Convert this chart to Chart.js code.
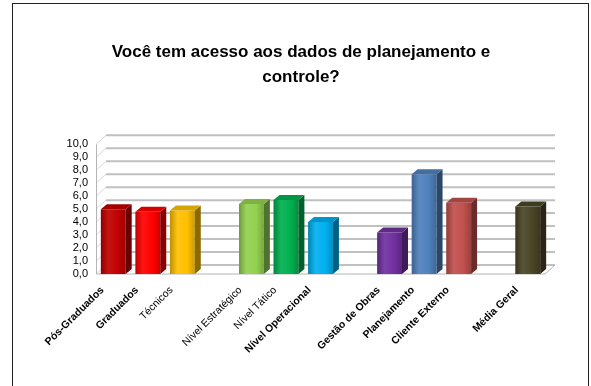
<!DOCTYPE html>
<html>
<head>
<meta charset="utf-8">
<script src="https://cdn.jsdelivr.net/npm/chart.js@4.4.0/dist/chart.umd.min.js"></script>
<style>
  html, body { margin: 0; padding: 0; background: #fff; }
  #wrap { position: relative; width: 591px; height: 386px; overflow: hidden; }
  #frame { position: absolute; left: 12px; top: 3px; width: 577px; height: 420px; border: 1px solid #222; box-sizing: border-box; }
  canvas { position: absolute; left: 0; top: 0; }
</style>
</head>
<body>
<div id="wrap">
  <div id="frame"></div>
  <canvas id="acessoChart" width="591" height="386"></canvas>
</div>
<script>
// categorias (vazias = espaço entre grupos)
const categorias = ['Pós-Graduados', 'Graduados', 'Técnicos', '',
    'Nível Estratégico', 'Nível Tático', 'Nível Operacional', '',
    'Gestão de Obras', 'Planejamento', 'Cliente Externo', '',
    'Média Geral'];
const notas = [5.0, 4.8, 4.9, null, 5.4, 5.7, 4.0, null, 3.2, 7.7, 5.5, null, 5.2];
const cores = ['#C00000', '#FF0000', '#FFC000', '#ffffff',
    '#92D050', '#00B050', '#00B0F0', '#ffffff',
    '#7030A0', '#4F81BD', '#C0504D', '#ffffff',
    '#4A4526'];
const ticksY = [0, 1, 2, 3, 4, 5, 6, 7, 8, 9, 10];
// rótulos que aparecem sem negrito
const rotulosNormais = [2, 4, 5];

const FONTE = "'Liberation Sans', Arial, sans-serif";
const BAR_DX = 6, BAR_DY = 5;     // profundidade das colunas
const WALL_DX = 10, WALL_DY = 9;  // profundidade da parede do fundo

// clareia (amt > 0) ou escurece (amt < 0) uma cor hex
function mix(hex, amt) {
    const n = parseInt(hex.slice(1), 16);
    let r = n >> 16, g = (n >> 8) & 255, b = n & 255;
    const t = amt < 0 ? 0 : 255, p = Math.abs(amt);
    r = Math.round(r + (t - r) * p);
    g = Math.round(g + (t - g) * p);
    b = Math.round(b + (t - b) * p);
    return `rgb(${r},${g},${b})`;
}

// gradiente horizontal da face da frente
function frontFill(context) {
    const chart = context.chart;
    const base = cores[context.dataIndex];
    const xs = chart.scales.x;
    if (!chart.chartArea || !xs) return base;
    const cx = xs.getPixelForValue(context.dataIndex);
    const w = (xs.width / categorias.length) * 0.72;
    const g = chart.ctx.createLinearGradient(cx - w / 2, 0, cx + w / 2, 0);
    g.addColorStop(0, mix(base, -0.25));
    g.addColorStop(0.3, mix(base, 0.08));
    g.addColorStop(0.7, base);
    g.addColorStop(1, mix(base, -0.2));
    return g;
}

// parede lateral, piso e linhas de grade no fundo
const paredes = {
    id: 'paredes',
    beforeDatasetsDraw(chart) {
        const { ctx, chartArea: a, scales: { y } } = chart;
        const y0 = y.getPixelForValue(0);
        const yTop = y.getPixelForValue(10);
        ctx.save();
        ticksY.forEach(v => {
            const py = y.getPixelForValue(v);
            ctx.strokeStyle = '#c0c0c0';
            ctx.lineWidth = 2;
            ctx.beginPath();
            ctx.moveTo(a.left + WALL_DX, py - WALL_DY);
            ctx.lineTo(a.right + WALL_DX, py - WALL_DY);
            ctx.stroke();
            ctx.strokeStyle = '#d8d8d8';
            ctx.lineWidth = 1;
            ctx.beginPath();
            ctx.moveTo(a.left, py);
            ctx.lineTo(a.left + WALL_DX, py - WALL_DY);
            ctx.stroke();
        });
        ctx.strokeStyle = '#b4b4b4';
        ctx.lineWidth = 1;
        ctx.beginPath();
        ctx.moveTo(a.left + 0.5, yTop);
        ctx.lineTo(a.left + 0.5, y0);
        ctx.lineTo(a.right, y0);
        ctx.lineTo(a.right + WALL_DX, y0 - WALL_DY);
        ctx.stroke();
        ctx.restore();
    }
};

// faces lateral e superior de cada coluna
const barras3d = {
    id: 'barras3d',
    afterDatasetsDraw(chart) {
        const { ctx } = chart;
        const meta = chart.getDatasetMeta(0);
        ctx.save();
        meta.data.forEach((bar, i) => {
            if (notas[i] == null) return;
            const w = bar.width;
            const l = bar.x - w / 2, r = bar.x + w / 2;
            const t = bar.y, b = bar.base;
            ctx.fillStyle = mix(cores[i], -0.45);
            ctx.beginPath();
            ctx.moveTo(r, t);
            ctx.lineTo(r + BAR_DX, t - BAR_DY);
            ctx.lineTo(r + BAR_DX, b - BAR_DY);
            ctx.lineTo(r, b);
            ctx.closePath();
            ctx.fill();
            ctx.fillStyle = mix(cores[i], -0.15);
            ctx.beginPath();
            ctx.moveTo(l, t);
            ctx.lineTo(l + BAR_DX, t - BAR_DY);
            ctx.lineTo(r + BAR_DX, t - BAR_DY);
            ctx.lineTo(r, t);
            ctx.closePath();
            ctx.fill();
        });
        ctx.restore();
    }
};

const ctx = document.getElementById('acessoChart').getContext('2d');
const acessoChart = new Chart(ctx, {
    type: 'bar',
    data: {
        labels: categorias,
        datasets: [{
            data: notas,
            backgroundColor: frontFill,
            borderWidth: 0,
            barPercentage: 0.72,
            categoryPercentage: 1
        }]
    },
    options: {
        responsive: false,
        animation: false,
        layout: { padding: { left: 57, right: 46, top: 0, bottom: 0 } },
        plugins: {
            legend: { display: false },
            tooltip: { enabled: false },
            title: {
                display: true,
                text: ['Você tem acesso aos dados de planejamento e', 'controle?'],
                color: '#000',
                font: { family: FONTE, size: 17, weight: 'bold', lineHeight: 1.45 },
                padding: { top: 40, bottom: 55 }
            }
        },
        scales: {
            x: {
                grid: { display: false },
                border: { display: false },
                ticks: {
                    autoSkip: false,
                    minRotation: 45,
                    maxRotation: 45,
                    padding: 2,
                    labelOffset: -11,
                    color: '#000',
                    font: (c) => ({
                        family: FONTE,
                        size: 10.5,
                        weight: rotulosNormais.includes(c.index) ? 'normal' : 'bold'
                    })
                },
                afterFit: (s) => { s.height = 112; }
            },
            y: {
                min: 0,
                max: 10,
                grid: { display: false, drawTicks: false },
                border: { display: false },
                ticks: {
                    autoSkip: false,
                    stepSize: 1,
                    padding: 8,
                    color: '#000',
                    font: { family: FONTE, size: 11 },
                    callback: (v) => v.toFixed(1).replace('.', ',')
                },
                afterFit: (s) => { s.width = 39; }
            }
        }
    },
    plugins: [paredes, barras3d]
});
</script>
</body>
</html>
